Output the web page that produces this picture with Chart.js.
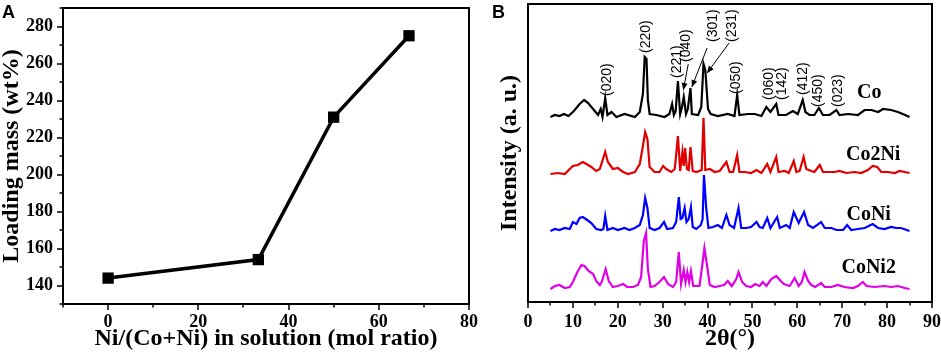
<!DOCTYPE html>
<html>
<head>
<meta charset="utf-8">
<script src="https://cdn.jsdelivr.net/npm/chart.js@4.4.1/dist/chart.umd.min.js"></script>
<style>
  html, body { margin: 0; padding: 0; background: #fff; }
  #wrap { position: relative; width: 941px; height: 358px; overflow: hidden; }
  #chartA { position: absolute; left: 0; top: 0; }
  #chartB { position: absolute; left: 480px; top: 0; }
</style>
</head>
<body>
<div id="wrap">
  <canvas id="chartA" width="480" height="358"></canvas>
  <canvas id="chartB" width="461" height="358"></canvas>
</div>
<script>
// ---- panel A: loading mass vs Ni fraction ----
const nickelRatio = [0, 33.3, 50, 66.7];
const loadingMass = [144, 154, 231, 275];

// ---- panel B: XRD patterns (intensity in a.u., stacked with offsets) ----
const seriesNames = ['Co', 'Co2Ni', 'CoNi', 'CoNi2'];
const offsets = [185, 128, 71, 13];

const coTheta = [5, 6, 7, 8, 9, 10, 10.4, 11.5, 12.5, 13.4, 14.5, 15.6, 16.2, 16.6, 17.2, 17.7, 18.6, 19.7, 21.5, 23.8,
  24.9, 25.6, 26.0, 26.4, 26.7, 27.1, 28.6, 30.4, 31.5, 32.1, 32.5, 32.9, 33.4, 33.9, 34.3, 34.7, 35.2, 35.6, 36.2, 36.5,
  37.9, 38.6, 39.1, 39.5, 40.1, 40.7, 42.3, 44.5, 46.0, 46.6, 47.1, 49.0, 50.5, 52.0, 53.1, 54.0, 55.3, 55.8, 57.5, 59.0,
  60.1, 61.2, 61.8, 62.7, 63.8, 64.8, 65.7, 67.2, 68.7, 69.4, 71.3, 73.5, 75.0, 76.5, 78.0, 79.1, 80.9, 82.4, 83.5, 85];
const coInt = [0, 2, 1, 3, 1, 5, 7, 13, 17, 14, 8, 2, 8, 0, 19, 2, 5, 0, 3, 0,
  5, 23, 60, 58, 17, 3, 2, 0, 3, 13, 2, 6, 36, 3, 10, 20, 3, 8, 29, 3,
  2, 10, 53, 47, 8, 3, 1, 3, 1, 22, 2, 3, 3, 1, 10, 5, 13, 2, 2, 6,
  3, 17, 5, 2, 2, 9, 2, 2, 7, 2, 3, 2, 7, 7, 5, 8, 7, 5, 3, 0];

const co2niTheta = [5, 6.7, 8.2, 9.3, 10.0, 11.1, 12.2, 13.0, 14.1, 15.2, 16.0, 16.7, 17.2, 17.8, 18.9, 20.0, 21.2, 22.3, 23.8, 24.9,
  25.6, 26.1, 26.6, 27.1, 28.2, 29.3, 30.1, 30.8, 31.9, 32.7, 33.4, 33.9, 34.4, 34.7, 35.0, 35.4, 35.8, 36.2, 36.7, 37.5,
  38.7, 39.1, 39.5, 40.5, 41.6, 42.7, 44.2, 44.9, 45.7, 46.6, 47.1, 48.3, 49.7, 50.9, 52.0, 53.3, 54.0, 55.3, 55.8, 57.2,
  58.1, 59.2, 59.8, 60.5, 61.4, 62.0, 63.1, 63.8, 65.0, 65.7, 66.8, 68.3, 69.4, 70.9, 72.8, 74.2, 75.7, 76.8, 77.8, 78.7,
  80.2, 81.7, 82.8, 83.9, 85];
const co2niInt = [0, 1, 0, 5, 8, 9, 12, 10, 7, 3, 5, 15, 22, 12, 5, 6, 2, 0, 2, 10,
  28, 42, 35, 7, 2, 2, 8, 5, 2, 5, 38, 3, 22, 8, 26, 5, 4, 27, 3, 2,
  4, 56, 4, 5, 2, 3, 12, 2, 2, 19, 2, 2, 1, 4, 1, 10, 2, 17, 2, 3,
  1, 13, 2, 3, 17, 5, 3, 2, 9, 2, 2, 2, 3, 1, 2, 1, 4, 8, 7, 2,
  2, 1, 3, 2, 1];

const coniTheta = [5, 6.0, 7.0, 8.2, 9.3, 10.0, 10.8, 11.5, 12.2, 13.2, 14.1, 15.2, 16.3, 16.8, 17.2, 17.7, 18.9, 20.0, 21.5, 22.6,
  23.8, 24.9, 25.6, 26.1, 26.6, 27.1, 28.2, 29.3, 30.3, 31.0, 32.3, 33.0, 33.6, 34.0, 34.4, 34.9, 35.3, 35.8, 36.3, 36.7,
  37.5, 38.5, 38.9, 39.2, 39.7, 40.2, 41.2, 42.3, 43.2, 44.2, 44.9, 45.9, 46.9, 47.5, 48.6, 49.7, 50.9, 51.6, 52.3, 53.3,
  54.0, 55.5, 56.1, 57.5, 58.3, 59.2, 60.3, 61.5, 62.4, 63.5, 65.3, 66.1, 67.6, 68.7, 70.2, 71.1, 72.0, 73.5, 75.0, 76.8,
  78.0, 79.4, 80.9, 82.0, 83.1, 85];
const coniInt = [0, 2, 1, 3, 2, 9, 7, 13, 14, 11, 8, 2, 1, 2, 15, 1, 3, 1, 3, 1,
  3, 6, 16, 33, 23, 3, 1, 3, 9, 2, 3, 9, 34, 12, 13, 23, 9, 12, 24, 4,
  2, 6, 12, 56, 23, 3, 4, 6, 3, 16, 6, 3, 23, 3, 3, 4, 9, 4, 3, 13,
  3, 14, 3, 6, 3, 19, 8, 19, 6, 3, 9, 3, 3, 1, 1, 6, 1, 2, 3, 7,
  3, 2, 4, 3, 3, 0];

const coni2Theta = [5, 6.0, 7.0, 8.2, 9.3, 10.0, 11.0, 11.9, 12.6, 13.5, 14.5, 15.2, 16.0, 16.5, 17.3, 18.0, 18.9, 20.0, 21.2, 22.1,
  23.4, 24.5, 25.2, 25.8, 26.3, 26.7, 27.3, 28.2, 29.3, 30.3, 31.2, 32.3, 33.0, 33.6, 34.1, 34.7, 35.1, 35.5, 35.9, 36.3,
  36.8, 37.5, 38.2, 38.8, 39.3, 39.9, 40.5, 41.6, 42.7, 43.7, 44.5, 45.4, 46.4, 46.9, 47.7, 48.6, 49.7, 50.6, 51.6, 52.3,
  53.1, 54.2, 55.3, 56.3, 57.0, 58.3, 59.4, 60.3, 61.0, 61.6, 62.4, 63.1, 64.0, 65.3, 66.1, 67.6, 69.0, 70.5, 72.4, 73.5,
  74.6, 75.4, 77.2, 79.4, 80.9, 82.4, 83.9, 85];
const coni2Int = [0, 3, 4, 1, 2, 7, 17, 24, 23, 18, 15, 8, 4, 8, 20, 8, 2, 3, 5, 2,
  2, 4, 12, 48, 56, 20, 2, 3, 7, 12, 5, 2, 7, 37, 5, 19, 7, 17, 7, 18,
  3, 3, 3, 23, 41, 23, 4, 2, 3, 4, 8, 3, 10, 17, 7, 3, 2, 5, 3, 7,
  3, 10, 13, 8, 5, 3, 11, 3, 7, 17, 8, 4, 2, 6, 2, 2, 4, 2, 1, 3,
  7, 3, 2, 3, 2, 3, 1, 0];

// Miller index labels: text, 2theta, y (a.u.) where rotated text starts
const hklText = ['(020)', '(220)', '(221)', '(040)', '(301)', '(231)', '(050)', '(060)', '(142)', '(412)', '(450)', '(023)'];
const hklTheta = [17.7, 26.4, 33.2, 35.2, 41.2, 45.4, 46.4, 53.7, 56.6, 61.3, 64.7, 69.2];
const hklY = [206, 249, 224, 240, 260, 260, 208, 202, 202, 207, 195, 195];

// pointer arrows for the crowded peaks: [theta1, y1, theta2, y2]
const arrowLines = [
  [35.7, 238, 34.6, 212],
  [39.9, 254, 36.5, 215],
  [44.8, 259, 39.9, 229]
];

const nameTheta = [76.0, 76.9, 75.9, 75.9];
const nameY = [209, 147, 87, 34];

const seriesTheta = [coTheta, co2niTheta, coniTheta, coni2Theta];
const seriesInt = [coInt, co2niInt, coniInt, coni2Int];
const seriesColors = ['#000000', '#e00000', '#0000ff', '#e000e6'];

const SERIF = "'Liberation Serif', 'Times New Roman', serif";
const SANS = "'Liberation Sans', Arial, sans-serif";

// frame box, outside ticks with minors, panel letter
const boxTicks = {
  id: 'boxTicks',
  afterDraw(chart, args, o) {
    const {ctx, chartArea: a, scales: {x, y}} = chart;
    ctx.save();
    ctx.strokeStyle = '#000';
    ctx.lineWidth = 2;
    ctx.strokeRect(a.left, a.top, a.right - a.left, a.bottom - a.top);
    ctx.lineWidth = 1.5;
    ctx.beginPath();
    x.ticks.forEach(t => {
      const px = Math.round(x.getPixelForValue(t.value));
      const len = t.value % o.xMajor === 0 ? 6 : 3.5;
      ctx.moveTo(px, a.bottom);
      ctx.lineTo(px, a.bottom + len);
    });
    if (o.yMajor) {
      y.ticks.forEach(t => {
        const py = Math.round(y.getPixelForValue(t.value));
        const len = t.value % o.yMajor === 0 ? 6 : 3.5;
        ctx.moveTo(a.left, py);
        ctx.lineTo(a.left - len, py);
      });
    }
    ctx.stroke();
    ctx.fillStyle = '#000';
    ctx.font = `bold 18px ${SANS}`;
    ctx.textAlign = 'left';
    ctx.textBaseline = 'alphabetic';
    ctx.fillText(o.letter, o.letterX, 18);
    ctx.restore();
  }
};

const xrdMarks = {
  id: 'xrdMarks',
  afterDatasetsDraw(chart) {
    const {ctx, scales: {x, y}} = chart;
    ctx.save();
    ctx.fillStyle = '#000';
    ctx.strokeStyle = '#000';
    ctx.font = `14px ${SANS}`;
    ctx.textAlign = 'left';
    ctx.textBaseline = 'middle';
    hklText.forEach((t, i) => {
      ctx.save();
      ctx.translate(x.getPixelForValue(hklTheta[i]), y.getPixelForValue(hklY[i]));
      ctx.rotate(-Math.PI / 2);
      ctx.fillText(t, 0, 0);
      ctx.restore();
    });
    ctx.lineWidth = 1;
    arrowLines.forEach(([t1, v1, t2, v2]) => {
      const x1 = x.getPixelForValue(t1), y1 = y.getPixelForValue(v1);
      const x2 = x.getPixelForValue(t2), y2 = y.getPixelForValue(v2);
      const ang = Math.atan2(y2 - y1, x2 - x1);
      ctx.beginPath();
      ctx.moveTo(x1, y1);
      ctx.lineTo(x2, y2);
      ctx.stroke();
      ctx.beginPath();
      ctx.moveTo(x2, y2);
      ctx.lineTo(x2 - 7 * Math.cos(ang) + 3 * Math.sin(ang), y2 - 7 * Math.sin(ang) - 3 * Math.cos(ang));
      ctx.lineTo(x2 - 7 * Math.cos(ang) - 3 * Math.sin(ang), y2 - 7 * Math.sin(ang) + 3 * Math.cos(ang));
      ctx.closePath();
      ctx.fill();
    });
    ctx.font = `bold 20px ${SERIF}`;
    ctx.textAlign = 'center';
    seriesNames.forEach((n, i) => {
      ctx.fillText(n, x.getPixelForValue(nameTheta[i]), y.getPixelForValue(nameY[i]));
    });
    ctx.restore();
  }
};

const tickFont = { family: SERIF, size: 18, weight: 'bold' };
const titleFont = { family: SERIF, size: 24, weight: 'bold', lineHeight: 1 };

// fixed axis box sizes so the plot area lands where the figure has it
const fixX = h => s => { s.height = h; s.paddingLeft = 0; s.paddingRight = 0; };

new Chart(document.getElementById('chartA'), {
  type: 'line',
  data: {
    datasets: [{
      data: nickelRatio.map((v, i) => ({ x: v, y: loadingMass[i] })),
      borderColor: '#000',
      backgroundColor: '#000',
      borderWidth: 3.5,
      pointStyle: 'rect',
      pointRadius: 8,
      pointBorderWidth: 0,
      tension: 0
    }]
  },
  options: {
    responsive: false,
    animation: false,
    layout: { padding: { left: 0, right: 11, top: 5, bottom: 0 } },
    plugins: {
      legend: { display: false },
      tooltip: { enabled: false },
      boxTicks: { xMajor: 20, yMajor: 20, letter: 'A', letterX: 2 }
    },
    scales: {
      x: {
        type: 'linear', min: -10, max: 80,
        afterFit: fixX(54),
        grid: { display: false, drawTicks: false },
        border: { display: false },
        ticks: {
          stepSize: 10, autoSkip: false, maxRotation: 0, padding: 8,
          color: '#000', font: tickFont,
          callback: v => (v % 20 === 0 && v >= 0 ? v : '')
        },
        title: {
          display: true, text: 'Ni/(Co+Ni) in solution (mol ratio)',
          color: '#000', font: titleFont, padding: { top: 0, bottom: 7 }
        }
      },
      y: {
        min: 130, max: 290,
        afterFit: s => { s.width = 63; s.paddingTop = 0; s.paddingBottom = 0; },
        grid: { display: false, drawTicks: false },
        border: { display: false },
        ticks: {
          stepSize: 10, autoSkip: false, padding: 10,
          color: '#000', font: tickFont,
          callback: v => (v % 20 === 0 && v >= 140 && v <= 280 ? v : '')
        },
        title: {
          display: true, text: 'Loading mass (wt%)',
          color: '#000', font: titleFont, padding: { top: 0, bottom: 0 }
        }
      }
    }
  },
  plugins: [boxTicks]
});

new Chart(document.getElementById('chartB'), {
  type: 'line',
  data: {
    datasets: seriesNames.map((name, k) => ({
      label: name,
      data: seriesTheta[k].map((t, i) => ({ x: t, y: seriesInt[k][i] + offsets[k] })),
      borderColor: seriesColors[k],
      borderWidth: 2.2,
      pointRadius: 0,
      tension: 0
    }))
  },
  options: {
    responsive: false,
    animation: false,
    layout: { padding: { left: 0, right: 9, top: 4, bottom: 0 } },
    plugins: {
      legend: { display: false },
      tooltip: { enabled: false },
      boxTicks: { xMajor: 10, yMajor: 0, letter: 'B', letterX: 12 }
    },
    scales: {
      x: {
        type: 'linear', min: 0, max: 90,
        afterFit: fixX(56),
        grid: { display: false, drawTicks: false },
        border: { display: false },
        ticks: {
          stepSize: 5, autoSkip: false, maxRotation: 0, padding: 10,
          color: '#000', font: tickFont,
          callback: v => (v % 10 === 0 ? v : '')
        },
        title: {
          display: true, text: '2θ(°)',
          color: '#000', font: titleFont, padding: { top: 0, bottom: 7 }
        }
      },
      y: {
        min: 0, max: 298,
        afterFit: s => { s.width = 48; s.paddingTop = 0; s.paddingBottom = 0; },
        grid: { display: false, drawTicks: false },
        border: { display: false },
        ticks: { display: false },
        title: {
          display: true, text: 'Intensity (a. u.)',
          color: '#000', font: titleFont, padding: { top: 18, bottom: 0 }
        }
      }
    }
  },
  plugins: [boxTicks, xrdMarks]
});
</script>
</body>
</html>
